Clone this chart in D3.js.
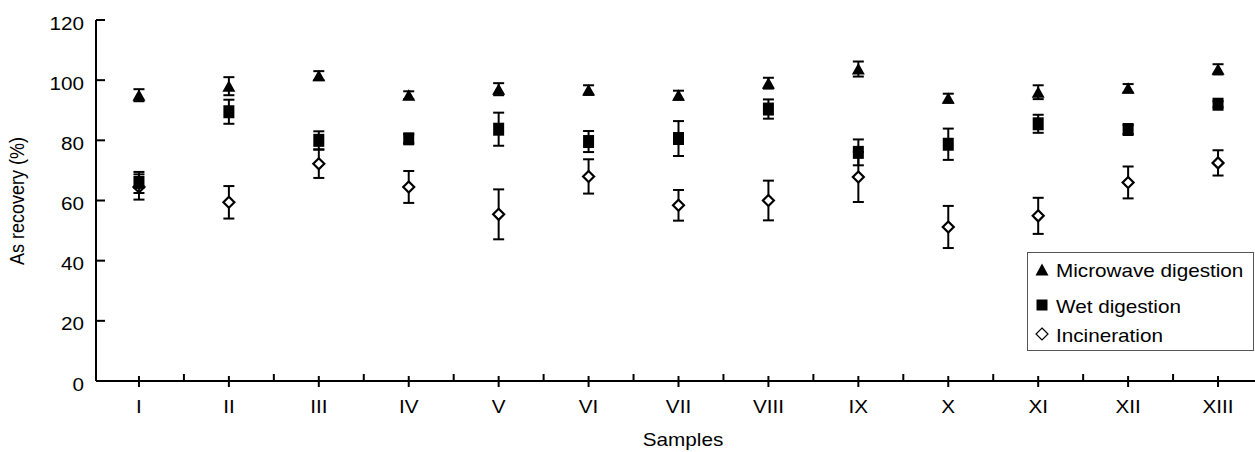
<!DOCTYPE html>
<html>
<head>
  <meta charset=utf-8 />
  <title>As recovery</title>
  <script type="text/javascript" src="https://cdn.jsdelivr.net/npm/d3@7"></script>
  <style>
    body { margin: 0; background: white; }
    text { font-family: "Liberation Sans", Arial, sans-serif; fill: #000; }
  </style>
  <script>
    var w = 1255;
    var h = 452;

    var samples = ["I", "II", "III", "IV", "V", "VI", "VII", "VIII", "IX", "X", "XI", "XII", "XIII"];
    var microwave = [95, 98, 101.5, 95, 97, 96.7, 95, 99, 103.7, 94, 96, 97.3, 103.6];
    var microwaveErr = [2, 3, 1.5, 1.3, 2, 1.6, 1.5, 1.8, 2.5, 1.5, 2.3, 1.4, 1.7];
    var wet = [66, 89.5, 80, 80.5, 83.7, 79.6, 80.6, 90.4, 76, 78.7, 85.5, 83.6, 92];
    var wetErr = [3.5, 4, 3, 1.5, 5.5, 3.5, 5.8, 3.2, 4.3, 5.2, 3, 1.5, 1];
    var incin = [64.5, 59.4, 72.2, 64.5, 55.4, 68, 58.4, 60, 67.8, 51.2, 54.9, 66, 72.5];
    var incinErr = [4.2, 5.4, 4.7, 5.3, 8.3, 5.7, 5.1, 6.6, 8.3, 7, 6, 5.3, 4.2];
    var yTicks = [0, 20, 40, 60, 80, 100, 120];
    var legendNames = ["Microwave digestion", "Wet digestion", "Incineration"];

    var stretch = 1.15;  // the scan is a bit wider than tall

    function load() {
      var svg = d3.select("#vis")
        .append("svg")
        .attr("width", w)
        .attr("height", h);

      var x = d3.scaleBand().domain(samples).range([94, 1263]);
      var y = d3.scaleLinear().domain([0, 120]).range([381, 20]);
      function cx(d) { return x(d) + x.bandwidth() / 2; }

      // y axis
      svg.append("line")
        .attr("x1", 96).attr("x2", 96)
        .attr("y1", y(120)).attr("y2", y(0))
        .attr("stroke", "#000").attr("stroke-width", 2);
      svg.selectAll(".ytick")
        .data(yTicks).enter().append("line")
        .attr("x1", 96).attr("x2", 105)
        .attr("y1", function(d) { return y(d); })
        .attr("y2", function(d) { return y(d); })
        .attr("stroke", "#000").attr("stroke-width", 2);
      svg.selectAll(".ylab")
        .data(yTicks).enter().append("text")
        .attr("text-anchor", "end")
        .attr("font-size", 18)
        .attr("dy", "0.42em")
        .attr("transform", function(d) { return "translate(84," + (y(d) + 2) + ") scale(" + stretch + ",1)"; })
        .text(function(d) { return d; });

      // x axis
      svg.append("line")
        .attr("x1", 96).attr("x2", w)
        .attr("y1", y(0)).attr("y2", y(0))
        .attr("stroke", "#000").attr("stroke-width", 2);
      svg.selectAll(".xtick")
        .data(samples).enter().append("line")
        .attr("x1", cx).attr("x2", cx)
        .attr("y1", y(0) - 5).attr("y2", y(0) + 6)
        .attr("stroke", "#000").attr("stroke-width", 2);
      svg.selectAll(".xminor")
        .data(samples.slice(1)).enter().append("line")
        .attr("x1", function(d) { return x(d); })
        .attr("x2", function(d) { return x(d); })
        .attr("y1", y(0) - 7).attr("y2", y(0))
        .attr("stroke", "#000").attr("stroke-width", 2);
      svg.selectAll(".xlab")
        .data(samples).enter().append("text")
        .attr("text-anchor", "middle")
        .attr("font-size", 18)
        .attr("transform", function(d) { return "translate(" + cx(d) + ",413) scale(" + stretch + ",1)"; })
        .text(function(d) { return d; });

      // axis titles
      svg.append("text")
        .attr("text-anchor", "middle")
        .attr("font-size", 18)
        .attr("transform", "translate(683,446) scale(" + stretch + ",1)")
        .text("Samples");
      svg.append("text")
        .attr("text-anchor", "middle")
        .attr("font-size", 18)
        .attr("transform", "translate(24,201) rotate(-90) scale(1," + stretch + ")")
        .text("As recovery (%)");

      var tri = "M0,-6L6.5,5.5L-6.5,5.5Z";
      var sq = "M-5.5,-6.5H5.5V6.5H-5.5Z";
      var dia = "M0,-5.5L5.5,0L0,5.5L-5.5,0Z";

      function errBars(vals, errs) {
        var g = svg.append("g").attr("stroke", "#000").attr("stroke-width", 2);
        g.selectAll("line.v").data(samples).enter().append("line")
          .attr("x1", cx).attr("x2", cx)
          .attr("y1", function(d, i) { return y(vals[i] + errs[i]); })
          .attr("y2", function(d, i) { return y(vals[i] - errs[i]); });
        g.selectAll("line.t").data(samples).enter().append("line")
          .attr("x1", function(d) { return cx(d) - 5.5; })
          .attr("x2", function(d) { return cx(d) + 5.5; })
          .attr("y1", function(d, i) { return y(vals[i] + errs[i]); })
          .attr("y2", function(d, i) { return y(vals[i] + errs[i]); });
        g.selectAll("line.b").data(samples).enter().append("line")
          .attr("x1", function(d) { return cx(d) - 5.5; })
          .attr("x2", function(d) { return cx(d) + 5.5; })
          .attr("y1", function(d, i) { return y(vals[i] - errs[i]); })
          .attr("y2", function(d, i) { return y(vals[i] - errs[i]); });
      }

      function markers(vals, path, fill, sw) {
        svg.append("g").selectAll("path").data(samples).enter().append("path")
          .attr("d", path)
          .attr("fill", fill)
          .attr("stroke", "#000")
          .attr("stroke-width", sw)
          .attr("transform", function(d, i) { return "translate(" + cx(d) + "," + y(vals[i]) + ")"; });
      }

      errBars(incin, incinErr);
      markers(incin, dia, "#fff", 2.2);
      errBars(wet, wetErr);
      markers(wet, sq, "#000", 0);
      errBars(microwave, microwaveErr);
      markers(microwave, tri, "#000", 0);

      // legend
      svg.append("rect")
        .attr("x", 1027.5).attr("y", 252.5)
        .attr("width", 226).attr("height", 98)
        .attr("fill", "#fff")
        .attr("stroke", "#555").attr("stroke-width", 1);
      var lgY = [276.5, 312.5, 341.5];
      var lgSym = [
        { d: "M0,-6.5L6.5,5.5L-6.5,5.5Z", fill: "#000", sw: 0, cy: 270 },
        { d: "M-5.5,-5.5H5.5V5.5H-5.5Z", fill: "#000", sw: 0, cy: 305 },
        { d: "M0,-6L6,0L0,6L-6,0Z", fill: "#fff", sw: 1.2, cy: 334 }
      ];
      var lg = svg.append("g");
      lg.selectAll("path").data(lgSym).enter().append("path")
        .attr("d", function(d) { return d.d; })
        .attr("fill", function(d) { return d.fill; })
        .attr("stroke", "#000")
        .attr("stroke-width", function(d) { return d.sw; })
        .attr("transform", function(d) { return "translate(1042," + d.cy + ")"; });
      lg.selectAll("text").data(legendNames).enter().append("text")
        .attr("font-size", 18)
        .attr("transform", function(d, i) { return "translate(1056," + lgY[i] + ") scale(" + stretch + ",1)"; })
        .text(function(d) { return d; });
    }
  </script>
</head>
<body onload="load()">
  <div id="vis"></div>
</body>
</html>
